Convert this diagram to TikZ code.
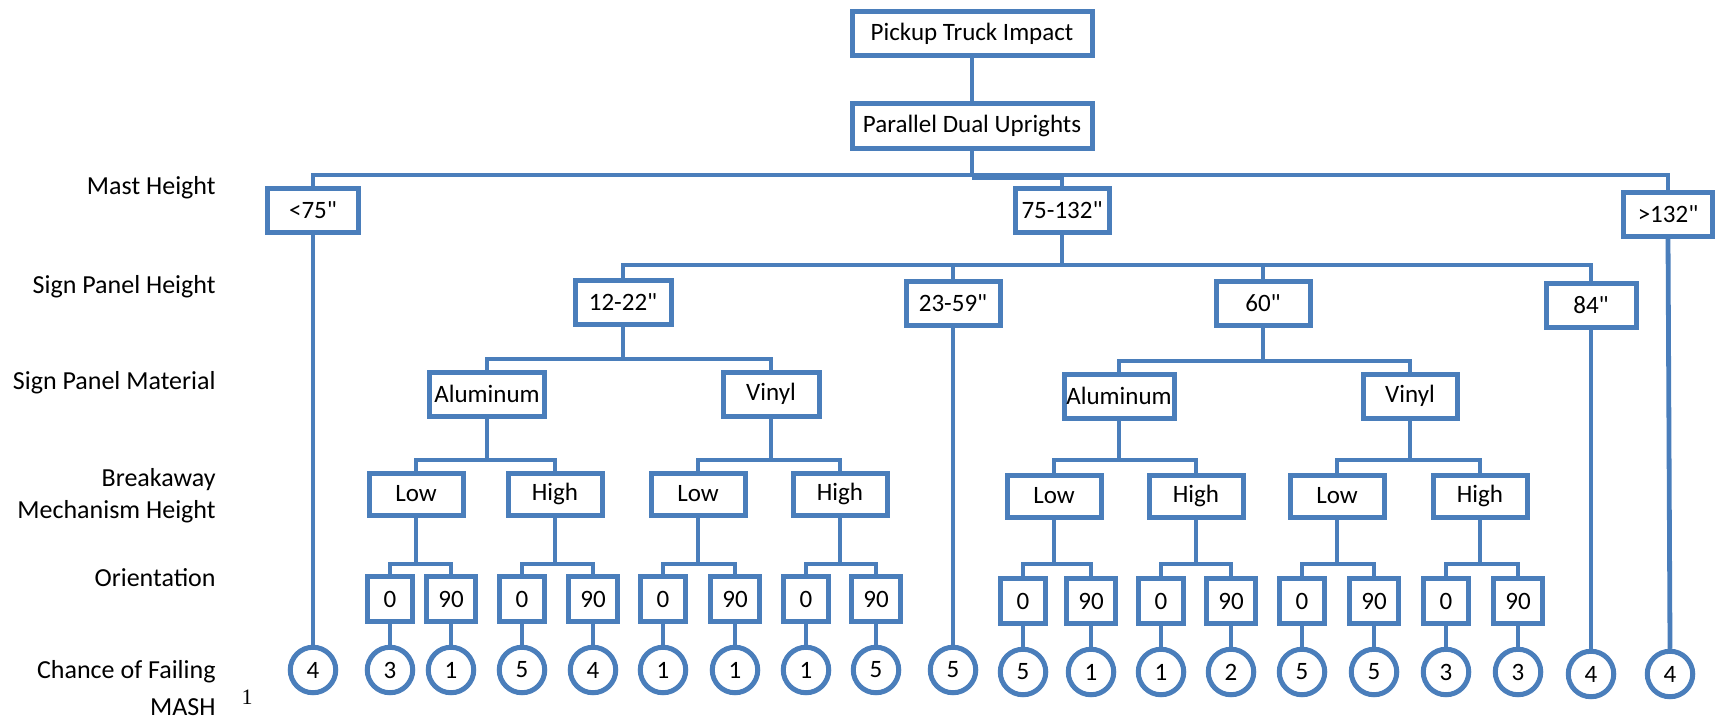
\documentclass[tikz,border=0pt]{standalone}
\usepackage{fontspec}
\setmainfont{Carlito}
\newfontfamily\carl{Carlito}
\newfontfamily\serifone{Liberation Serif}
\definecolor{lineblue}{RGB}{74,126,187}
\newcommand\tconn[3]{\draw[conn] (#1.south) -- (#1.south |- #3) -| (#2.north);}
\newcommand\vconn[2]{\draw[conn] (#1.south) -- (#2.north);}
\begin{document}
\begin{tikzpicture}[x=0.5pt,y=-0.5pt,
  conn/.style={draw=lineblue,line width=2.4pt},
  tbox/.style={draw=lineblue,line width=2.5pt,fill=white,inner sep=0pt,minimum height=22pt,font=\carl\fontsize{12.5}{14}\selectfont},
  lhbox/.style={tbox,minimum width=47pt,minimum height=21pt},
  obox/.style={tbox,minimum width=22.5pt,minimum height=22.5pt},
  nbox/.style={tbox,minimum width=24.5pt,minimum height=22.5pt},
  leaf/.style={circle,draw=lineblue,line width=2.5pt,fill=white,inner sep=0pt,minimum size=22.75pt,font=\carl\fontsize{12.5}{14}\selectfont},
  side/.style={anchor=east,align=right,inner sep=0pt,font=\carl\fontsize{13}{16}\selectfont}]
\useasboundingbox (0,0) rectangle (1717,722);

% bus levels
\coordinate (b1) at (0,175);
\coordinate (b1a) at (0,178);
\coordinate (b2) at (0,265);
\coordinate (b3L) at (0,359);
\coordinate (b3R) at (0,361);
\coordinate (b4) at (0,460);
\coordinate (b5) at (0,564);

% side labels
\node[side] (lmast) at (216,188) {Mast Height};
\node[side] (lsph) at (216,287) {Sign Panel Height};
\node[side] (lspm) at (216,383) {Sign Panel Material};
\node[side] (lbrk) at (216,496) {Breakaway\\Mechanism Height};
\node[side] (lori) at (216,578) {Orientation};
\node[side,font=\carl\fontsize{13}{18.5}\selectfont] (lchance) at (216,688) {Chance of Failing\\MASH};
\node[font=\serifone\fontsize{11}{12}\selectfont,inner sep=0pt] (lsup) at (247,697) {1};

% top
\node[tbox,minimum width=120pt] (top) at (972,34) {Pickup Truck Impact};
\node[tbox,minimum width=120pt] (pdu) at (972,126) {Parallel Dual Uprights};

% mast height
\node[tbox,minimum width=45.5pt] (m1) at (313,210) {<75\symbol{34}};
\node[tbox,minimum width=47pt] (m2) at (1062,210) {75-132\symbol{34}};
\node[tbox,minimum width=44.5pt] (m3) at (1668,214) {>132\symbol{34}};

% sign panel height
\node[tbox,minimum width=48pt] (s1) at (623,302) {12-22\symbol{34}};
\node[tbox,minimum width=47pt] (s2) at (953,303) {23-59\symbol{34}};
\node[tbox,minimum width=47pt] (s3) at (1263,303) {60\symbol{34}};
\node[tbox,minimum width=45pt] (s4) at (1591,305) {84\symbol{34}};

% material
\node[tbox,minimum width=57.5pt] (aL) at (487,394) {Aluminum};
\node[tbox,minimum width=48pt] (vL) at (771,394) {Vinyl};
\node[tbox,minimum width=55pt] (aR) at (1119,396) {Aluminum};
\node[tbox,minimum width=47pt] (vR) at (1410,396) {Vinyl};

% breakaway
\node[lhbox] (lo1) at (416,494) {Low};
\node[lhbox] (hi1) at (555,494) {High};
\node[lhbox] (lo2) at (698,494) {Low};
\node[lhbox] (hi2) at (840,494) {High};
\node[lhbox] (lo3) at (1054,496) {Low};
\node[lhbox] (hi3) at (1196,496) {High};
\node[lhbox] (lo4) at (1337,496) {Low};
\node[lhbox] (hi4) at (1480,496) {High};

% orientation
\node[obox] (o1) at (390,599) {0};
\node[nbox] (o2) at (451,599) {90};
\node[obox] (o3) at (522,599) {0};
\node[nbox] (o4) at (593,599) {90};
\node[obox] (o5) at (663,599) {0};
\node[nbox] (o6) at (735,599) {90};
\node[obox] (o7) at (806,599) {0};
\node[nbox] (o8) at (876,599) {90};
\node[obox] (o9) at (1023,601) {0};
\node[nbox] (o10) at (1091,601) {90};
\node[obox] (o11) at (1161,601) {0};
\node[nbox] (o12) at (1231,601) {90};
\node[obox] (o13) at (1302,601) {0};
\node[nbox] (o14) at (1374,601) {90};
\node[obox] (o15) at (1446,601) {0};
\node[nbox] (o16) at (1518,601) {90};

% leaves
\node[leaf] (c1) at (313,670) {4};
\node[leaf] (c2) at (390,670) {3};
\node[leaf] (c3) at (451,670) {1};
\node[leaf] (c4) at (522,670) {5};
\node[leaf] (c5) at (593,670) {4};
\node[leaf] (c6) at (663,670) {1};
\node[leaf] (c7) at (735,670) {1};
\node[leaf] (c8) at (806,670) {1};
\node[leaf] (c9) at (876,670) {5};
\node[leaf] (c10) at (953,670) {5};
\node[leaf] (c11) at (1023,672) {5};
\node[leaf] (c12) at (1091,672) {1};
\node[leaf] (c13) at (1161,672) {1};
\node[leaf] (c14) at (1231,672) {2};
\node[leaf] (c15) at (1302,672) {5};
\node[leaf] (c16) at (1374,672) {5};
\node[leaf] (c17) at (1446,672) {3};
\node[leaf] (c18) at (1518,672) {3};
\node[leaf] (c19) at (1591,674) {4};
\node[leaf] (c20) at (1670,674) {4};

% connectors
\vconn{top}{pdu}
\tconn{pdu}{m1}{b1}
\tconn{pdu}{m2}{b1}
\tconn{pdu}{m3}{b1}
\draw[conn] (pdu.south |- b1a) -- (m2.north |- b1a);
\tconn{m2}{s1}{b2}
\tconn{m2}{s2}{b2}
\tconn{m2}{s3}{b2}
\tconn{m2}{s4}{b2}
\tconn{s1}{aL}{b3L}
\tconn{s1}{vL}{b3L}
\tconn{s3}{aR}{b3R}
\tconn{s3}{vR}{b3R}
\tconn{aL}{lo1}{b4}
\tconn{aL}{hi1}{b4}
\tconn{vL}{lo2}{b4}
\tconn{vL}{hi2}{b4}
\tconn{aR}{lo3}{b4}
\tconn{aR}{hi3}{b4}
\tconn{vR}{lo4}{b4}
\tconn{vR}{hi4}{b4}
\tconn{lo1}{o1}{b5}
\tconn{lo1}{o2}{b5}
\tconn{hi1}{o3}{b5}
\tconn{hi1}{o4}{b5}
\tconn{lo2}{o5}{b5}
\tconn{lo2}{o6}{b5}
\tconn{hi2}{o7}{b5}
\tconn{hi2}{o8}{b5}
\tconn{lo3}{o9}{b5}
\tconn{lo3}{o10}{b5}
\tconn{hi3}{o11}{b5}
\tconn{hi3}{o12}{b5}
\tconn{lo4}{o13}{b5}
\tconn{lo4}{o14}{b5}
\tconn{hi4}{o15}{b5}
\tconn{hi4}{o16}{b5}
\vconn{m1}{c1}
\vconn{o1}{c2}
\vconn{o2}{c3}
\vconn{o3}{c4}
\vconn{o4}{c5}
\vconn{o5}{c6}
\vconn{o6}{c7}
\vconn{o7}{c8}
\vconn{o8}{c9}
\vconn{s2}{c10}
\vconn{o9}{c11}
\vconn{o10}{c12}
\vconn{o11}{c13}
\vconn{o12}{c14}
\vconn{o13}{c15}
\vconn{o14}{c16}
\vconn{o15}{c17}
\vconn{o16}{c18}
\vconn{s4}{c19}
\vconn{m3}{c20}
\end{tikzpicture}
\end{document}
